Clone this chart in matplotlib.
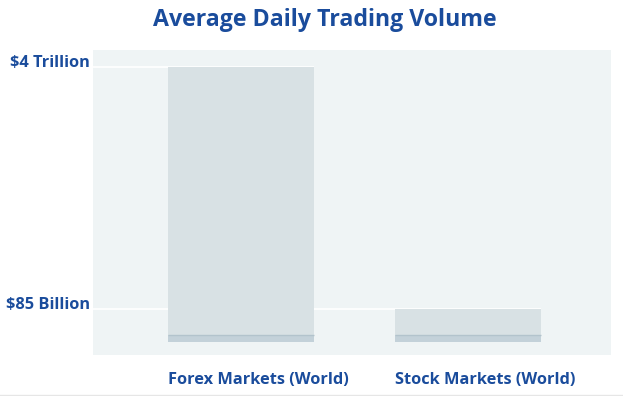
import matplotlib.pyplot as plt
from matplotlib.lines import Line2D
import matplotlib.transforms as mtransforms

# values in billions of USD
markets = ['Forex Markets (World)', 'Stock Markets (World)']
volumes = [4000, 85]
tick_labels = ['$4 Trillion', '$85 Billion']

BASE = 50.3       # log axis floor the bars grow from
BAND_TOP = 55.8   # darker strip at the foot of each bar

blue = '#1a4c9c'
plt.rcParams['font.family'] = ['Open Sans', 'DejaVu Sans']

fig = plt.figure(figsize=(6.23, 3.96), dpi=100)
ax = fig.add_axes([93 / 623, 41 / 396, 518 / 623, 305 / 396])
ax.set_facecolor('#eff4f5')
ax.set_yscale('log')

x = list(range(len(markets)))
w = 0.643
heights = [v - BASE for v in volumes]
ax.bar(x, heights, width=w, bottom=BASE, color='#d8e1e4', zorder=2)
ax.bar(x, [BAND_TOP - BASE] * len(x), width=w, bottom=BASE, color='#c3d1d9', zorder=3)
ax.hlines([BAND_TOP] * len(x), [i - w / 2 for i in x], [i + w / 2 for i in x],
          color='#b2c3cc', lw=1, zorder=4)

xmin, xmax = -0.652, 1.63
# white rules from the axis out to each bar's right edge
ax.hlines(volumes, xmin, [i + w / 2 for i in x], color='white', lw=1.2, zorder=1.5)

ax.set_xlim(xmin, xmax)
ax.set_ylim(40.9, 5242)

ax.set_xticks([i - w / 2 for i in x])
ax.set_xticklabels(markets, ha='left', color=blue, fontsize=11.8, fontweight='bold')
ax.set_yticks(volumes)
ax.set_yticklabels(tick_labels, color=blue, fontsize=11.8, fontweight='bold')
ax.minorticks_off()
ax.tick_params(axis='x', length=0, pad=12)
ax.tick_params(axis='y', length=0, pad=2)
up = mtransforms.ScaledTranslation(0, 6 / 100, fig.dpi_scale_trans)
for lbl in ax.get_yticklabels():
    lbl.set_transform(lbl.get_transform() + up)

for s in ax.spines.values():
    s.set_visible(False)

fig.text(325 / 623, 1 - 20 / 396, 'Average Daily Trading Volume', ha='center', va='center',
         color=blue, fontsize=16.7, fontweight='bold')
fig.add_artist(Line2D([0, 1], [1.5 / 396, 1.5 / 396], color='#e6e6e6', lw=1))

fig.savefig('out.png', dpi=100)
